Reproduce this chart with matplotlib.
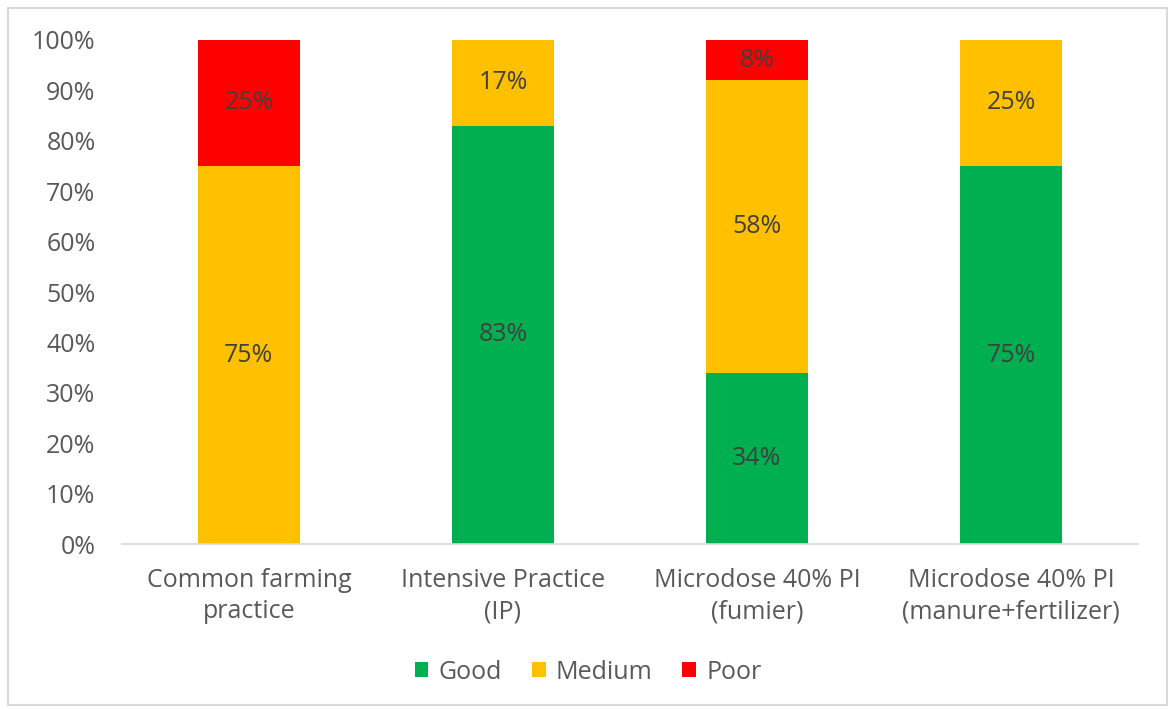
import matplotlib.pyplot as plt
from matplotlib.patches import Rectangle

# dados do gráfico (percentagens)
categorias = ["Common farming\npractice", "Intensive Practice\n(IP)",
              "Microdose 40% PI\n(fumier)", "Microdose 40% PI\n(manure+fertilizer)"]
good = [0, 83, 34, 75]
medium = [75, 17, 58, 25]
poor = [25, 0, 8, 0]
series_names = ["Good", "Medium", "Poor"]
cores = ["#00B050", "#FFC000", "#FF0000"]

plt.rcParams['font.family'] = ['Open Sans', 'DejaVu Sans']
fs = 18

fig = plt.figure(figsize=(11.76, 7.09), dpi=100)
ax = fig.add_axes([0.1037, 0.2327, 0.864, 0.7109])

x = range(len(categorias))
bottom = [0] * len(categorias)
for nome, vals, cor in zip(series_names, [good, medium, poor], cores):
    bars = ax.bar(x, vals, width=0.4, bottom=bottom, color=cor, label=nome)
    for b, v, bt in zip(bars, vals, bottom):
        if v > 0:
            ax.text(b.get_x() + b.get_width() / 2, bt + v / 2, f"{v}%",
                    ha='center', va='center', fontsize=fs, color='#404040')
    bottom = [a + b for a, b in zip(bottom, vals)]

ax.set_xlim(-0.5, 3.5)
ax.set_ylim(0, 100)
ax.set_yticks(range(0, 101, 10))
ax.set_yticklabels([f"{t}%" for t in range(0, 101, 10)])
ax.set_xticks(list(x))
ax.set_xticklabels(categorias, linespacing=1.36)
ax.tick_params(axis='both', length=0, labelsize=fs, colors='#595959')
ax.tick_params(axis='x', pad=17)
ax.tick_params(axis='y', pad=19)
for s in ['top', 'right', 'left']:
    ax.spines[s].set_visible(False)
ax.spines['bottom'].set_color('#D9D9D9')
ax.spines['bottom'].set_linewidth(1.2)

leg = fig.legend(loc='center', bbox_to_anchor=(0.5, 0.052), ncol=3, frameon=False,
                 fontsize=fs, handlelength=0.55, handleheight=0.55, handletextpad=0.4,
                 columnspacing=1.2)
for t in leg.get_texts():
    t.set_color('#595959')

# moldura cinza em volta da figura
fig.patches.append(Rectangle((0.007, 0.006), 0.985, 0.983, transform=fig.transFigure,
                             fill=False, edgecolor='#D9D9D9', linewidth=1.5))

fig.savefig("out.png", dpi=100)
